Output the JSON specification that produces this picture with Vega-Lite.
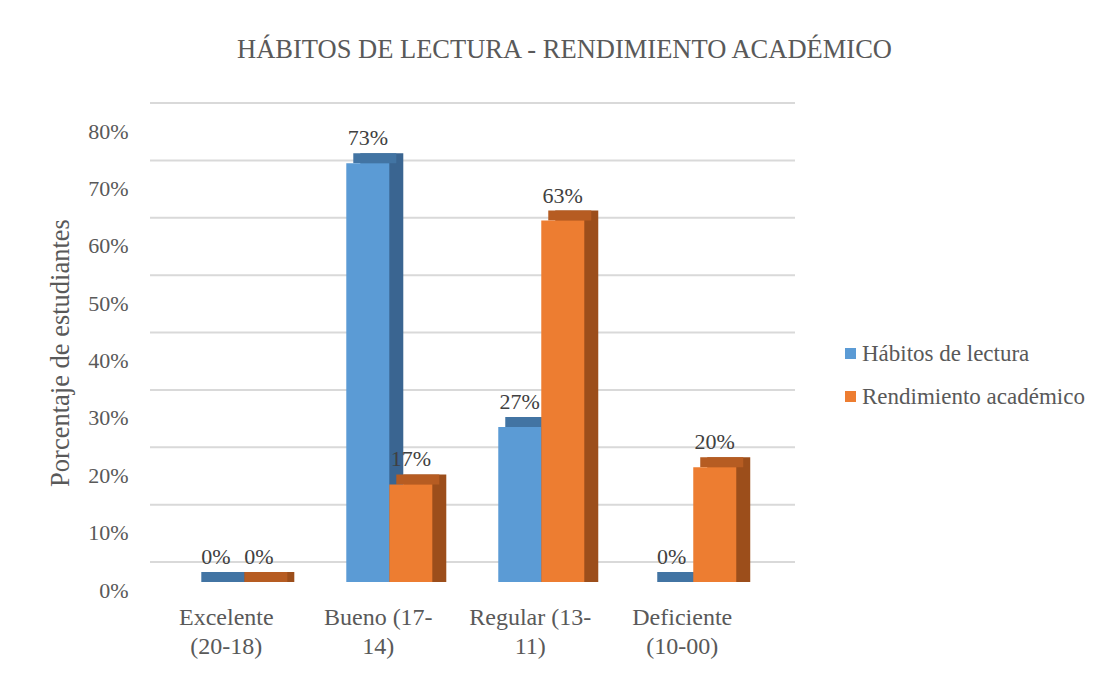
{
  "$schema": "https://vega.github.io/schema/vega-lite/v6.json",
  "width": 645,
  "height": 459,
  "autosize": {"type": "none"},
  "padding": {"left": 150, "top": 123, "right": 313, "bottom": 91},
  "background": "white",
  "title": {
    "text": "HÁBITOS DE LECTURA - RENDIMIENTO ACADÉMICO",
    "font": "Liberation Serif",
    "fontSize": 26.5,
    "fontWeight": "normal",
    "color": "#595959",
    "anchor": "middle",
    "dx": 92,
    "baseline": "alphabetic",
    "offset": 18
  },
  "config": {"view": {"stroke": null}, "font": "Liberation Serif"},
  "resolve": {"scale": {"xOffset": "independent"}},
  "datasets": {
    "grid": [{"v": 0}, {"v": 0.1}, {"v": 0.2}, {"v": 0.3}, {"v": 0.4}, {"v": 0.5}, {"v": 0.6}, {"v": 0.7}, {"v": 0.8}],
    "barras": [
      {"categoria": "Excelente (20-18)", "serie": "Hábitos de lectura", "valor": 0},
      {"categoria": "Excelente (20-18)", "serie": "Rendimiento académico", "valor": 0},
      {"categoria": "Bueno (17-14)", "serie": "Hábitos de lectura", "valor": 0.73},
      {"categoria": "Bueno (17-14)", "serie": "Rendimiento académico", "valor": 0.17},
      {"categoria": "Regular (13-11)", "serie": "Hábitos de lectura", "valor": 0.27},
      {"categoria": "Regular (13-11)", "serie": "Rendimiento académico", "valor": 0.63},
      {"categoria": "Deficiente (10-00)", "serie": "Hábitos de lectura", "valor": 0},
      {"categoria": "Deficiente (10-00)", "serie": "Rendimiento académico", "valor": 0.20}
    ]
  },
  "layer": [
    {
      "data": {"name": "grid"},
      "mark": {"type": "rule", "color": "#d9d9d9", "strokeWidth": 2, "yOffset": -20},
      "encoding": {
        "y": {
          "field": "v",
          "type": "quantitative",
          "scale": {"domain": [0, 0.8], "nice": false, "zero": true},
          "axis": {"title": "Porcentaje de estudiantes", "titleFont": "Liberation Serif", "titleFontSize": 26.5, "titleFontWeight": "normal", "titleColor": "#595959", "titlePadding": 13, "values": [0, 0.1, 0.2, 0.3, 0.4, 0.5, 0.6, 0.7, 0.8], "format": ".0%", "labelFont": "Liberation Serif", "labelFontSize": 22, "labelColor": "#595959", "labelPadding": 22, "labelOffset": 8, "ticks": false, "domain": false, "grid": false}
        }
      }
    },
    {
      "data": {"name": "barras"},
      "mark": {"type": "bar", "yOffset": -10},
      "encoding": {
        "x": {
          "field": "categoria", "type": "nominal", "sort": null,
          "scale": {"paddingInner": 0.434, "paddingOuter": 0.339, "align": 0.43},
          "axis": {"title": null, "ticks": false, "domain": false, "labelAngle": 0, "labelFont": "Liberation Serif", "labelFontSize": 24, "labelColor": "#595959", "labelPadding": 23, "labelOffset": -11, "labelLineHeight": 29, "labelLimit": 0, "labelExpr": "datum.value == 'Excelente (20-18)' ? ['Excelente', '(20-18)'] : datum.value == 'Bueno (17-14)' ? ['Bueno (17-', '14)'] : datum.value == 'Regular (13-11)' ? ['Regular (13-', '11)'] : ['Deficiente', '(10-00)']"}
        },
        "xOffset": {"field": "serie", "type": "nominal", "scale": {"domain": ["Hábitos de lectura", "Rendimiento académico"], "range": [14, 100]}},
        "y": {"field": "valor", "type": "quantitative", "stack": null, "axis": {"title": "Porcentaje de estudiantes", "titleFont": "Liberation Serif", "titleFontSize": 26.5, "titleFontWeight": "normal", "titleColor": "#595959", "titlePadding": 13, "values": [0, 0.1, 0.2, 0.3, 0.4, 0.5, 0.6, 0.7, 0.8], "format": ".0%", "labelFont": "Liberation Serif", "labelFontSize": 22, "labelColor": "#595959", "labelPadding": 22, "labelOffset": 8, "ticks": false, "domain": false, "grid": false}},
        "color": {"condition": {"test": "datum.serie === 'Hábitos de lectura'", "value": "#3A6591"}, "value": "#9C4E1B"}
      }
    },
    {
      "data": {"name": "barras"},
      "mark": {"type": "bar", "yOffset": -10},
      "encoding": {
        "x": {
          "field": "categoria", "type": "nominal", "sort": null,
          "axis": {"title": null, "ticks": false, "domain": false, "labelAngle": 0, "labelFont": "Liberation Serif", "labelFontSize": 24, "labelColor": "#595959", "labelPadding": 23, "labelOffset": -11, "labelLineHeight": 29, "labelLimit": 0, "labelExpr": "datum.value == 'Excelente (20-18)' ? ['Excelente', '(20-18)'] : datum.value == 'Bueno (17-14)' ? ['Bueno (17-', '14)'] : datum.value == 'Regular (13-11)' ? ['Regular (13-', '11)'] : ['Deficiente', '(10-00)']"}
        },
        "xOffset": {"field": "serie", "type": "nominal", "scale": {"domain": ["Hábitos de lectura", "Rendimiento académico"], "range": [7, 93]}},
        "y": {"field": "valor", "type": "quantitative", "stack": null, "axis": {"title": "Porcentaje de estudiantes", "titleFont": "Liberation Serif", "titleFontSize": 26.5, "titleFontWeight": "normal", "titleColor": "#595959", "titlePadding": 13, "values": [0, 0.1, 0.2, 0.3, 0.4, 0.5, 0.6, 0.7, 0.8], "format": ".0%", "labelFont": "Liberation Serif", "labelFontSize": 22, "labelColor": "#595959", "labelPadding": 22, "labelOffset": 8, "ticks": false, "domain": false, "grid": false}},
        "y2": {"field": "valor"},
        "color": {"condition": {"test": "datum.serie === 'Hábitos de lectura'", "value": "#4274A3"}, "value": "#B65C22"}
      }
    },
    {
      "data": {"name": "barras"},
      "mark": {"type": "bar"},
      "encoding": {
        "x": {
          "field": "categoria", "type": "nominal", "sort": null,
          "axis": {"title": null, "ticks": false, "domain": false, "labelAngle": 0, "labelFont": "Liberation Serif", "labelFontSize": 24, "labelColor": "#595959", "labelPadding": 23, "labelOffset": -11, "labelLineHeight": 29, "labelLimit": 0, "labelExpr": "datum.value == 'Excelente (20-18)' ? ['Excelente', '(20-18)'] : datum.value == 'Bueno (17-14)' ? ['Bueno (17-', '14)'] : datum.value == 'Regular (13-11)' ? ['Regular (13-', '11)'] : ['Deficiente', '(10-00)']"}
        },
        "xOffset": {"field": "serie", "type": "nominal", "scale": {"domain": ["Hábitos de lectura", "Rendimiento académico"], "paddingInner": 0, "paddingOuter": 0}},
        "y": {"field": "valor", "type": "quantitative", "stack": null, "axis": {"title": "Porcentaje de estudiantes", "titleFont": "Liberation Serif", "titleFontSize": 26.5, "titleFontWeight": "normal", "titleColor": "#595959", "titlePadding": 13, "values": [0, 0.1, 0.2, 0.3, 0.4, 0.5, 0.6, 0.7, 0.8], "format": ".0%", "labelFont": "Liberation Serif", "labelFontSize": 22, "labelColor": "#595959", "labelPadding": 22, "labelOffset": 8, "ticks": false, "domain": false, "grid": false}},
        "color": {
          "field": "serie",
          "type": "nominal",
          "scale": {"domain": ["Hábitos de lectura", "Rendimiento académico"], "range": ["#5B9BD5", "#ED7D31"]},
          "legend": {"title": null, "orient": "none", "legendX": 689, "legendY": 219, "padding": 0, "symbolType": "square", "symbolSize": 121, "symbolStrokeWidth": 0, "labelFont": "Liberation Serif", "labelFontSize": 23, "labelColor": "#595959", "labelOffset": 0, "labelLimit": 0, "rowPadding": 19}
        }
      }
    },
    {
      "data": {"name": "barras"},
      "mark": {"type": "text", "dy": -25, "fontSize": 22, "font": "Liberation Serif", "color": "#404040", "baseline": "middle", "align": "center"},
      "encoding": {
        "x": {
          "field": "categoria", "type": "nominal", "sort": null,
          "axis": {"title": null, "ticks": false, "domain": false, "labelAngle": 0, "labelFont": "Liberation Serif", "labelFontSize": 24, "labelColor": "#595959", "labelPadding": 23, "labelOffset": -11, "labelLineHeight": 29, "labelLimit": 0, "labelExpr": "datum.value == 'Excelente (20-18)' ? ['Excelente', '(20-18)'] : datum.value == 'Bueno (17-14)' ? ['Bueno (17-', '14)'] : datum.value == 'Regular (13-11)' ? ['Regular (13-', '11)'] : ['Deficiente', '(10-00)']"}
        },
        "xOffset": {"field": "serie", "type": "nominal", "scale": {"type": "point", "domain": ["Hábitos de lectura", "Rendimiento académico"], "range": [21.5, 64.5], "padding": 0}},
        "y": {"field": "valor", "type": "quantitative", "stack": null, "axis": {"title": "Porcentaje de estudiantes", "titleFont": "Liberation Serif", "titleFontSize": 26.5, "titleFontWeight": "normal", "titleColor": "#595959", "titlePadding": 13, "values": [0, 0.1, 0.2, 0.3, 0.4, 0.5, 0.6, 0.7, 0.8], "format": ".0%", "labelFont": "Liberation Serif", "labelFontSize": 22, "labelColor": "#595959", "labelPadding": 22, "labelOffset": 8, "ticks": false, "domain": false, "grid": false}},
        "text": {"field": "valor", "type": "quantitative", "format": ".0%"}
      }
    }
  ]
}
